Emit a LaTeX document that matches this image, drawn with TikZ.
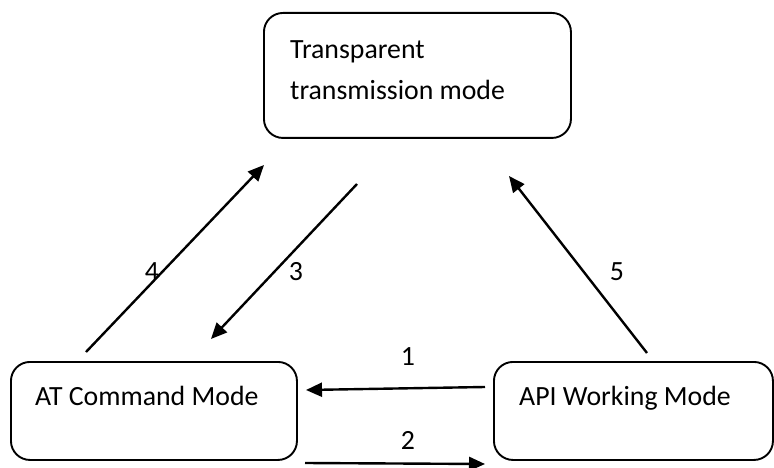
\documentclass[tikz,border=0pt]{standalone}
\usepackage{fontspec}
\setmainfont{Carlito}
\usetikzlibrary{arrows.meta}

\tikzset{
  modebox/.style={draw=black, line width=1.9pt, rounded corners=19pt,
    inner sep=0pt, anchor=north west},
  boxtext/.style={anchor=base west, inner sep=0pt,
    font=\fontsize{27.8}{33}\selectfont},
  numlabel/.style={inner sep=0pt, font=\fontsize{27.8}{33}\selectfont},
  flow/.style={line width=2.4pt, -{Triangle[length=16pt,width=14pt]}},
}

\begin{document}
\begin{tikzpicture}[x=1pt, y=-1pt]
  \useasboundingbox (0,0) rectangle (774,468);

  % mode boxes
  \node[modebox, minimum width=307pt, minimum height=125pt] (trans) at (263,12) {};
  \node[modebox, minimum width=286pt, minimum height=98pt] (atcmd) at (10,361) {};
  \node[modebox, minimum width=279pt, minimum height=98pt] (api) at (493,361) {};

  % box captions
  \node[boxtext] (transA) at (290,59) {Transparent};
  \node[boxtext] (transB) at (290,100) {transmission mode};
  \node[boxtext] (atcmdT) at (35,405) {AT Command Mode};
  \node[boxtext] (apiT) at (519,405) {API Working Mode};

  % arrow end points
  \coordinate (a1s) at (485,387);
  \coordinate (a1e) at (306,390);
  \coordinate (a2s) at (305,463);
  \coordinate (a2e) at (485,464);
  \coordinate (a3s) at (357,184);
  \coordinate (a3e) at (211,339);
  \coordinate (a4s) at (86,352);
  \coordinate (a4e) at (264,165);
  \coordinate (a5s) at (647,353);
  \coordinate (a5e) at (509,176);

  % transitions
  \draw[flow] (a1s) -- (a1e);
  \draw[flow] (a2s) -- (a2e);
  \draw[flow] (a3s) -- (a3e);
  \draw[flow] (a4s) -- (a4e);
  \draw[flow] (a5s) -- (a5e);

  % transition numbers
  \node[numlabel] (n1) at (408,357) {1};
  \node[numlabel] (n2) at (408,440) {2};
  \node[numlabel] (n3) at (296,272) {3};
  \node[numlabel] (n4) at (152,272) {4};
  \node[numlabel] (n5) at (617,272) {5};
\end{tikzpicture}
\end{document}
